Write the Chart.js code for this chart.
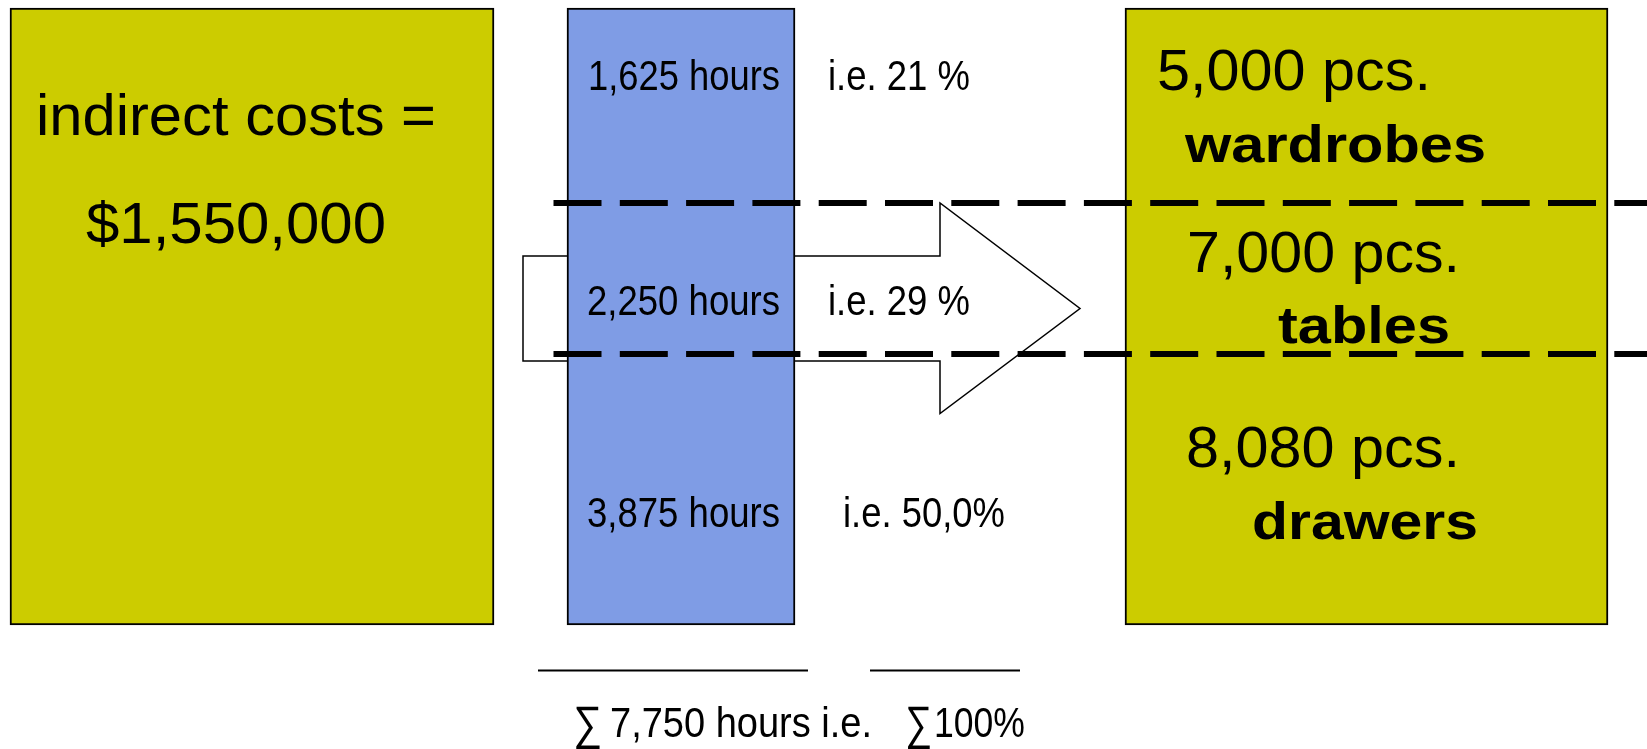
<!DOCTYPE html>
<html>
<head>
<meta charset="utf-8">
<title>Indirect cost allocation by machine hours</title>
<script src="https://cdn.jsdelivr.net/npm/chart.js"></script>
<style>
  html, body { margin: 0; padding: 0; background: #ffffff; }
  #wrap { position: relative; width: 1647px; height: 749px; }
</style>
</head>
<body>
<div id="wrap"><canvas id="chart"></canvas></div>
<script>
// ---- values ----
const products = ['wardrobes', 'tables', 'drawers'];
const hours = [1625, 2250, 3875];
const pieces = [5000, 7000, 8080];
const shareLabels = ['i.e. 21 %', 'i.e. 29 %', 'i.e. 50,0%'];
const totalShareLabel = '100%';
const indirectCosts = 1550000;

const fmt = n => n.toLocaleString('en-US');
const totalHours = hours.reduce((a, b) => a + b, 0);

// ---- layout (diagram units = pixels of the 1647 x 749 canvas) ----
const W = 1647, H = 749;
const OLIVE = '#CCCC00';
const BLUE = '#7F9CE5';
const boxTop = 8, boxBottom = 625;
const boxes = [
  { left: 10, right: 494, color: OLIVE },   // indirect costs
  { left: 567, right: 795, color: BLUE },   // hours column
  { left: 1125, right: 1608, color: OLIVE } // products
];
const dividerY = [203, 354];
const dividerStart = 553.5;
const arrow = { tail: 523, shaftTop: 256, shaftBottom: 361, headBase: 940, headTop: 203, headBottom: 413.5, tip: 1080 };

// text placements: [left, right, baseline]
const hoursPos = [[588, 780, 90], [587, 780, 315], [587, 780, 527]];
const sharePos = [[828, 970, 90], [828, 970, 315], [843, 1005, 527]];
const piecesPos = [[1157, 1431, 90], [1187, 1460, 272], [1186, 1460, 467]];
const productPos = [[1185, 1486, 162], [1278, 1450, 343], [1252, 1478, 539]];

const FONT = '"Liberation Sans", Arial, Helvetica, sans-serif';
const SIGMA = '\u2211';

function fitText(ctx, str, left, right, base, size, bold) {
  ctx.save();
  ctx.font = (bold ? 'bold ' : '') + size + 'px ' + FONT;
  ctx.fillStyle = '#000000';
  ctx.textBaseline = 'alphabetic';
  ctx.textAlign = 'left';
  const w = ctx.measureText(str).width;
  ctx.translate(left, base);
  ctx.scale((right - left) / w, 1);
  ctx.fillText(str, 0, 0);
  ctx.restore();
}

// arrow behind the hours column
const arrowPlugin = {
  id: 'arrow',
  beforeDatasetsDraw(chart) {
    const { ctx, scales: { x, y } } = chart;
    const X = v => x.getPixelForValue(v), Y = v => y.getPixelForValue(v);
    ctx.save();
    ctx.beginPath();
    ctx.moveTo(X(arrow.tail), Y(arrow.shaftTop));
    ctx.lineTo(X(arrow.headBase), Y(arrow.shaftTop));
    ctx.lineTo(X(arrow.headBase), Y(arrow.headTop));
    ctx.lineTo(X(arrow.tip), Y((arrow.shaftTop + arrow.shaftBottom) / 2));
    ctx.lineTo(X(arrow.headBase), Y(arrow.headBottom));
    ctx.lineTo(X(arrow.headBase), Y(arrow.shaftBottom));
    ctx.lineTo(X(arrow.tail), Y(arrow.shaftBottom));
    ctx.closePath();
    ctx.fillStyle = '#ffffff';
    ctx.fill();
    ctx.lineWidth = 1.5;
    ctx.strokeStyle = '#000000';
    ctx.stroke();
    ctx.restore();
  }
};

// dividers, labels and totals on top of the boxes
const labelPlugin = {
  id: 'labels',
  afterDatasetsDraw(chart) {
    const { ctx, scales: { x, y } } = chart;
    const X = v => x.getPixelForValue(v), Y = v => y.getPixelForValue(v);

    ctx.save();
    ctx.strokeStyle = '#000000';
    ctx.lineWidth = 6;
    ctx.lineCap = 'butt';
    ctx.setLineDash([48, 18.3]);
    dividerY.forEach(d => {
      ctx.beginPath();
      ctx.moveTo(X(dividerStart), Y(d));
      ctx.lineTo(X(W), Y(d));
      ctx.stroke();
    });
    ctx.restore();

    // cost pool
    fitText(ctx, 'indirect costs =', X(36), X(436), Y(135), 58, false);
    fitText(ctx, '$' + fmt(indirectCosts), X(86), X(386), Y(243), 57, false);

    // hours and shares
    hours.forEach((h, i) => {
      const p = hoursPos[i];
      fitText(ctx, fmt(h) + ' hours', X(p[0]), X(p[1]), Y(p[2]), 42, false);
      const s = sharePos[i];
      fitText(ctx, shareLabels[i], X(s[0]), X(s[1]), Y(s[2]), 42, false);
    });

    // products
    products.forEach((name, i) => {
      const p = piecesPos[i];
      fitText(ctx, fmt(pieces[i]) + ' pcs.', X(p[0]), X(p[1]), Y(p[2]), 58, false);
      const q = productPos[i];
      fitText(ctx, name, X(q[0]), X(q[1]), Y(q[2]), 52, true);
    });

    // totals
    ctx.save();
    ctx.strokeStyle = '#000000';
    ctx.lineWidth = 2;
    ctx.beginPath();
    ctx.moveTo(X(538), Y(670.5)); ctx.lineTo(X(808), Y(670.5));
    ctx.moveTo(X(870), Y(670.5)); ctx.lineTo(X(1020), Y(670.5));
    ctx.stroke();
    ctx.restore();
    fitText(ctx, SIGMA, X(573), X(602), Y(739), 47, false);
    fitText(ctx, fmt(totalHours) + ' hours i.e.', X(610), X(872), Y(737), 42, false);
    fitText(ctx, SIGMA, X(905), X(932), Y(739), 47, false);
    fitText(ctx, totalShareLabel, X(934), X(1025), Y(737), 42, false);
  }
};

const datasets = boxes.map(b => ({
  data: [{ x: (b.left + b.right) / 2, y: [boxTop, boxBottom] }],
  backgroundColor: b.color,
  borderColor: '#000000',
  borderWidth: 2,
  borderSkipped: false,
  barThickness: b.right - b.left,
  grouped: false
}));

new Chart(document.getElementById('chart'), {
  type: 'bar',
  data: { datasets },
  options: {
    responsive: true,
    maintainAspectRatio: false,
    animation: false,
    events: [],
    devicePixelRatio: 1,
    layout: { padding: 0 },
    plugins: { legend: { display: false }, tooltip: { enabled: false } },
    scales: {
      x: { type: 'linear', min: 0, max: W, offset: false, display: false },
      y: { type: 'linear', min: 0, max: H, reverse: true, display: false }
    }
  },
  plugins: [arrowPlugin, labelPlugin]
});
</script>
</body>
</html>
